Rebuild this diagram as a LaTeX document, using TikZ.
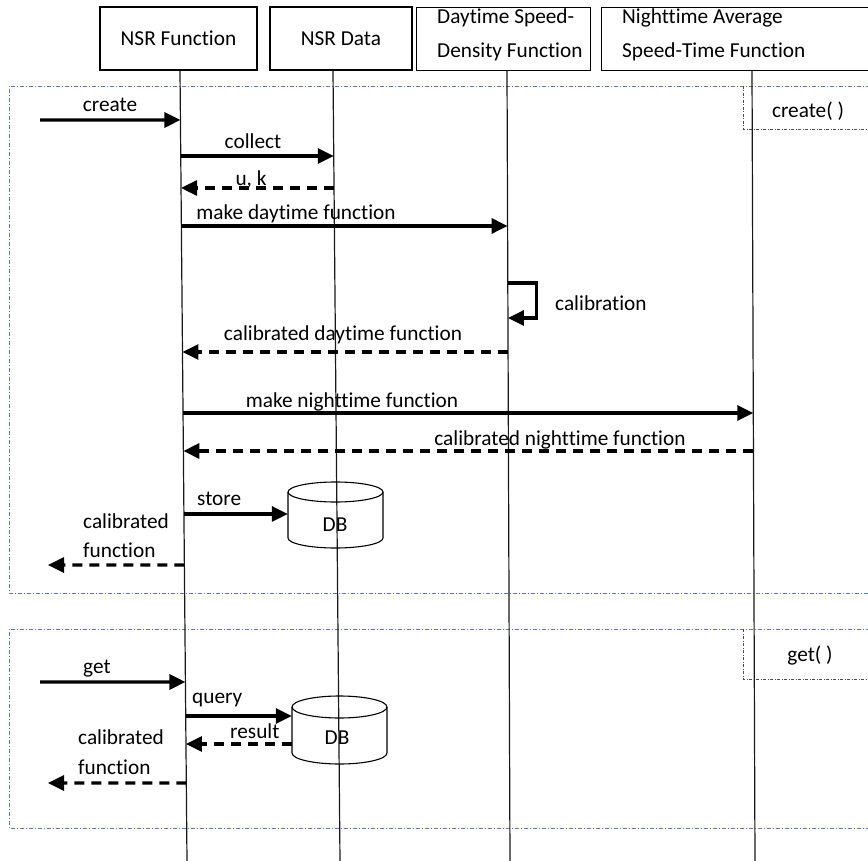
\documentclass[tikz,border=0pt]{standalone}
\usepackage{fontspec}
\setmainfont{Carlito}[Ligatures=NoCommon]
\usetikzlibrary{arrows.meta,calc}
\newcommand\lifept[3]{\coordinate (#1) at ($(#2t)!{(#3-71)/790}!(#2b)$);}
\begin{document}
\begin{tikzpicture}[x=1pt,y=-1pt,
  every node/.style={font=\fontsize{21.3}{25}\selectfont, inner sep=0pt},
  hdr/.style={draw, line width=1.1pt, minimum height=63pt},
  life/.style={line width=1.2pt, draw=black!90},
  msg/.style={line width=3.2pt, -{Triangle[length=16pt,width=15pt]}},
  ret/.style={msg, dash pattern=on 10pt off 7pt},
  lbl/.style={anchor=base},
  lblw/.style={anchor=base west},
  frm/.style={draw={rgb,255:red,91;green,125;blue,180}, line width=0.9pt, dash pattern=on 4pt off 2pt on 1pt off 2pt},
  tagbox/.style={draw=black!70, line width=0.9pt, dash pattern=on 3pt off 1.5pt on 1pt off 1.5pt},
  dbshape/.style={line width=1.1pt},
]
\useasboundingbox (0,0) rectangle (868,861);

% frames
\draw[frm] (870,86) -- (9,86) -- (9,593) -- (870,593);
\draw[frm] (870,629) -- (9,629) -- (9,828) -- (870,828);
\draw[tagbox] (743,86) -- (743,129) -- (870,129);
\draw[tagbox] (743,629) -- (743,679) -- (870,679);
\node[lbl] (tagcreate) at (808,118) {create( )};
\node[lbl] (tagget) at (810,661) {get( )};

% headers
\node[hdr, minimum width=157pt] (hF) at (178.5,38.5) {NSR Function};
\node[hdr, minimum width=142pt] (hD) at (341,38.5) {NSR Data};
\node[hdr, minimum width=174pt, anchor=north west] (hY) at (416,7) {};
\node[hdr, minimum width=280pt, anchor=north west] (hN) at (601,7) {};
\node[lblw] (tY1) at (437,24) {Daytime Speed-};
\node[lblw] (tY2) at (437,58) {Density Function};
\node[lblw] (tN1) at (622,24) {Nighttime Average};
\node[lblw] (tN2) at (622,58) {Speed-Time Function};

% lifelines
\coordinate (Ft) at (180,71); \coordinate (Fb) at (187,861);
\coordinate (Dt) at (333,71); \coordinate (Db) at (340,861);
\coordinate (Yt) at (507,71); \coordinate (Yb) at (510,861);
\coordinate (Nt) at (752,71); \coordinate (Nb) at (755,861);
\draw[life] (Ft) -- (Fb);
\draw[life] (Dt) -- (Db);
\draw[life] (Yt) -- (Yb);
\draw[life] (Nt) -- (Nb);

% points on lifelines
\lifept{F1}{F}{120}
\lifept{F2}{F}{156} \lifept{D2}{D}{156}
\lifept{F3}{F}{188} \lifept{D3}{D}{188}
\lifept{F4}{F}{226} \lifept{Y4}{Y}{226}
\lifept{Y5a}{Y}{283} \lifept{Y5b}{Y}{318}
\lifept{F6}{F}{352} \lifept{Y6}{Y}{352}
\lifept{F7}{F}{413} \lifept{N7}{N}{413}
\lifept{F8}{F}{451} \lifept{N8}{N}{451}
\lifept{F9}{F}{514}
\lifept{F10}{F}{565}
\lifept{F11}{F}{682}
\lifept{F12}{F}{716}
\lifept{F13}{F}{744}
\lifept{F14}{F}{783}
\coordinate (in1) at (40,120);
\coordinate (out1) at (48,565);
\coordinate (in2) at (40,682);
\coordinate (out2) at (48,783);

% DB cylinders
\node[minimum width=95pt, minimum height=66pt] (db1) at (335.5,515) {};
\draw[dbshape] (335.5,492) ellipse [x radius=47.5, y radius=10];
\draw[dbshape] (288,492) -- (288,538) arc[start angle=180, end angle=0, x radius=47.5, y radius=10] -- (383,492);
\node (db1t) at (335,525) {DB};
\node[minimum width=95pt, minimum height=68pt] (db2) at (339.5,730) {};
\draw[dbshape] (339.5,707) ellipse [x radius=47.5, y radius=11];
\draw[dbshape] (292,707) -- (292,753) arc[start angle=180, end angle=0, x radius=47.5, y radius=11] -- (387,707);
\node (db2t) at (337,738) {DB};

% messages frame 1
\draw[msg] (in1) -- (F1);
\node[lbl] (l1) at (110,112) {create};
\draw[msg] (F2) -- (D2);
\node[lbl] (l2) at (253,149) {collect};
\draw[ret] (D3) -- (F3);
\node[lbl] (l3) at (251,186) {u, k};
\draw[msg] (F4) -- (Y4);
\node[lbl] (l4) at (296,220) {make daytime function};
\draw[msg] (Y5a) -- ++(29,0) |- (Y5b);
\node[lblw] (l5) at (555,310) {calibration};
\draw[ret] (Y6) -- (F6);
\node[lbl] (l6) at (343,341) {calibrated daytime function};
\draw[msg] (F7) -- (N7);
\node[lbl] (l7) at (352,407) {make nighttime function};
\draw[ret] (N8) -- (F8);
\node[lbl] (l8) at (560,445) {calibrated nighttime function};
\draw[msg] (F9) -- (F9 -| db1.west);
\node[lblw] (l9) at (197,505) {store};
\draw[ret] (F10) -- (out1);
\node[lblw] (l10a) at (83,528) {calibrated};
\node[lblw] (l10b) at (83,557) {function};

% messages frame 2
\draw[msg] (in2) -- (F11);
\node[lblw] (l11) at (83,673) {get};
\draw[msg] (F12) -- (F12 -| db2.west);
\node[lblw] (l12) at (192,703) {query};
\draw[ret] (F13 -| db2.west) -- (F13);
\node[lblw] (l13) at (230,738) {result};
\draw[ret] (F14) -- (out2);
\node[lblw] (l14a) at (78,744) {calibrated};
\node[lblw] (l14b) at (78,774) {function};
\end{tikzpicture}
\end{document}
